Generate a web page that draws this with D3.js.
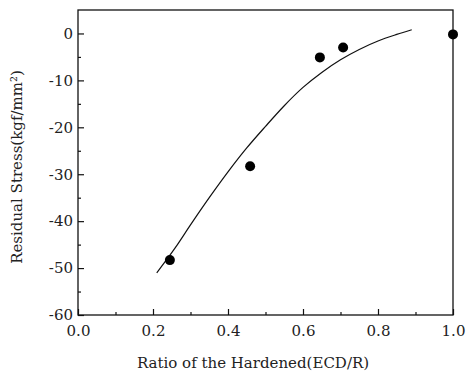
<!DOCTYPE html>
<html>
<head>
<meta charset="utf-8">
<script src="https://cdn.jsdelivr.net/npm/d3@7"></script>
<style>
  body { margin: 0; background: #fff; }
  text { font-family: "DejaVu Serif", "Liberation Serif", serif; fill: #222; }
</style>
</head>
<body>
<div class="chart"></div>
<script>
var margin = {top: 10, right: 20, bottom: 57, left: 78}

var width = 473 - margin.left - margin.right;
var height = 372 - margin.top - margin.bottom;

// measured points
var ratio = [0.245, 0.459, 0.645, 0.707, 1.0];
var stress = [-48.3, -28.3, -5.1, -3.0, -0.2];

// fitted curve
var fitX = [0.21, 0.26, 0.30, 0.35, 0.40, 0.45, 0.50, 0.55, 0.60, 0.65, 0.70, 0.75, 0.80, 0.85, 0.89];
var fitY = [-51, -45.6, -40.8, -35.0, -29.5, -24.4, -19.8, -15.4, -11.5, -8.3, -5.6, -3.4, -1.6, -0.2, 0.8];

var xTicks = [0, 0.2, 0.4, 0.6, 0.8, 1.0];
var yTicks = [0, -10, -20, -30, -40, -50, -60];

var svg = d3.select('.chart')
	.append('svg')
		.attr('width', width + margin.left + margin.right)
		.attr('height', height + margin.top + margin.bottom)
	.append('g')
		.attr('transform', `translate(${margin.left}, ${margin.top})`)

var xScale = d3.scaleLinear()
	.domain([0, 1])
	.range([0, width]);

var yScale = d3.scaleLinear()
	.domain([-60, 5])
	.range([height, 0]);

// minor ticks
svg.append('g')
	.attr('transform', `translate(0, ${height})`)
	.call(d3.axisBottom(xScale).tickValues(d3.range(0.1, 1, 0.2)).tickSize(-3).tickFormat(''))
	.call(g => g.select('.domain').remove());

svg.append('g')
	.call(d3.axisLeft(yScale).tickValues(d3.range(-55, 5, 10)).tickSize(-3).tickFormat(''))
	.call(g => g.select('.domain').remove());

var xAxis = d3.axisBottom(xScale)
	.tickValues(xTicks)
	.tickSize(-6)
	.tickPadding(10)
	.tickFormat(d3.format('.1f'));

svg.append('g')
	.attr('transform', `translate(0, ${height})`)
	.call(xAxis)
	.call(g => g.select('.domain').remove())
	.selectAll('text')
		.style('font-size', '15px');

var yAxis = d3.axisLeft(yScale)
	.tickValues(yTicks)
	.tickSize(-6)
	.tickPadding(5)
	.tickFormat(d => String(d));

svg.append('g')
	.call(yAxis)
	.call(g => g.select('.domain').remove())
	.selectAll('text')
		.style('font-size', '15px');

svg.selectAll('.tick line').attr('stroke', '#111').attr('stroke-width', 1.2);

// frame
svg.append('rect')
	.attr('width', width)
	.attr('height', height)
	.style('fill', 'none')
	.style('stroke', '#111')
	.style('stroke-width', 1.3)

var line = d3.line()
	.x((d, i) => xScale(fitX[i]))
	.y(d => yScale(d))
	.curve(d3.curveMonotoneX);

svg.append('path')
	.datum(fitY)
	.attr('d', line)
	.style('fill', 'none')
	.style('stroke', '#111')
	.style('stroke-width', 1.2);

svg.selectAll('circle')
	.data(ratio)
	.enter()
	.append('circle')
	.attr('cx', d => xScale(d))
	.attr('cy', (d, i) => yScale(stress[i]))
	.attr('r', 5)
	.style('fill', '#000');

svg.append('text')
	.attr('x', 175)
	.attr('y', 358)
	.attr('text-anchor', 'middle')
	.style('font-size', '15px')
	.text('Ratio of the Hardened(ECD/R)');

svg.append('text')
	.attr('transform', `translate(-56, ${157}) rotate(-90)`)
	.attr('text-anchor', 'middle')
	.style('font-size', '15px')
	.text('Residual Stress(kgf/mm²)');
</script>
</body>
</html>
